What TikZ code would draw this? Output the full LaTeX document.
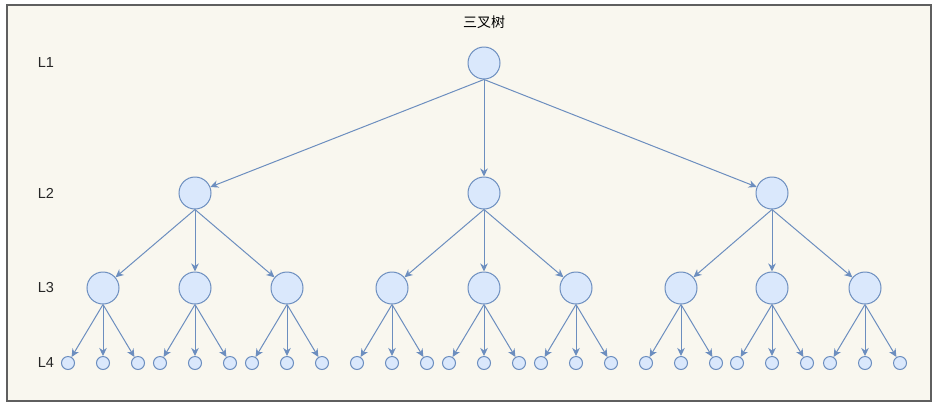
\documentclass[tikz,border=0pt]{standalone}
\usepackage{fontspec}
\setmainfont{Liberation Sans}
\newfontfamily\cjk{Noto Sans CJK SC}
\usetikzlibrary{arrows.meta}
\definecolor{bgc}{HTML}{F9F7EF}
\definecolor{lnc}{HTML}{6C8EBF}
\definecolor{fillc}{HTML}{DAE8FC}
\definecolor{frm}{HTML}{5F5F5F}
\begin{document}
\begin{tikzpicture}[x=1pt,y=-1pt,
  bignode/.style={circle,draw=lnc,fill=fillc,line width=1pt,minimum size=32pt,inner sep=0pt},
  smallnode/.style={circle,draw=lnc,fill=fillc,line width=1pt,minimum size=13pt,inner sep=0pt},
  edge/.style={draw=lnc,line width=1pt,-{Stealth[length=8pt,width=7.5pt,inset=2.5pt]}},
  lvl/.style={font=\fontsize{14.5}{16}\selectfont, text=black!85}]
\useasboundingbox (0,0) rectangle (937,408);
\fill[white] (0,0) rectangle (937,408);
\draw[frm,fill=bgc,line width=1.3pt] (7,5) rectangle (931,401);
\node[font=\cjk\fontsize{14}{16}\selectfont] (title) at (484,22) {三叉树};
\node[lvl] (l1) at (46,63) {L1};
\node[lvl] (l2) at (46,193) {L2};
\node[lvl] (l3) at (46,288) {L3};
\node[lvl] (l4) at (46,363) {L4};
\node[bignode] (r) at (484,63) {};
\foreach \i/\x in {1/195,2/484,3/772}{
  \node[bignode] (a\i) at (\x,193) {};
  \draw[edge] (r.south) -- (a\i);
}
\foreach \i/\x/\p in {1/103/1,2/195/1,3/287/1,4/392/2,5/484/2,6/576/2,7/681/3,8/772/3,9/865/3}{
  \node[bignode] (b\i) at (\x,288) {};
  \draw[edge] (a\p.south) -- (b\i);
  \foreach \j/\d in {1/-35,2/0,3/35}{
    \node[smallnode] (c\i\j) at (\x+\d,363) {};
    \draw[edge] (b\i.south) -- (c\i\j);
  }
}
\end{tikzpicture}
\end{document}
